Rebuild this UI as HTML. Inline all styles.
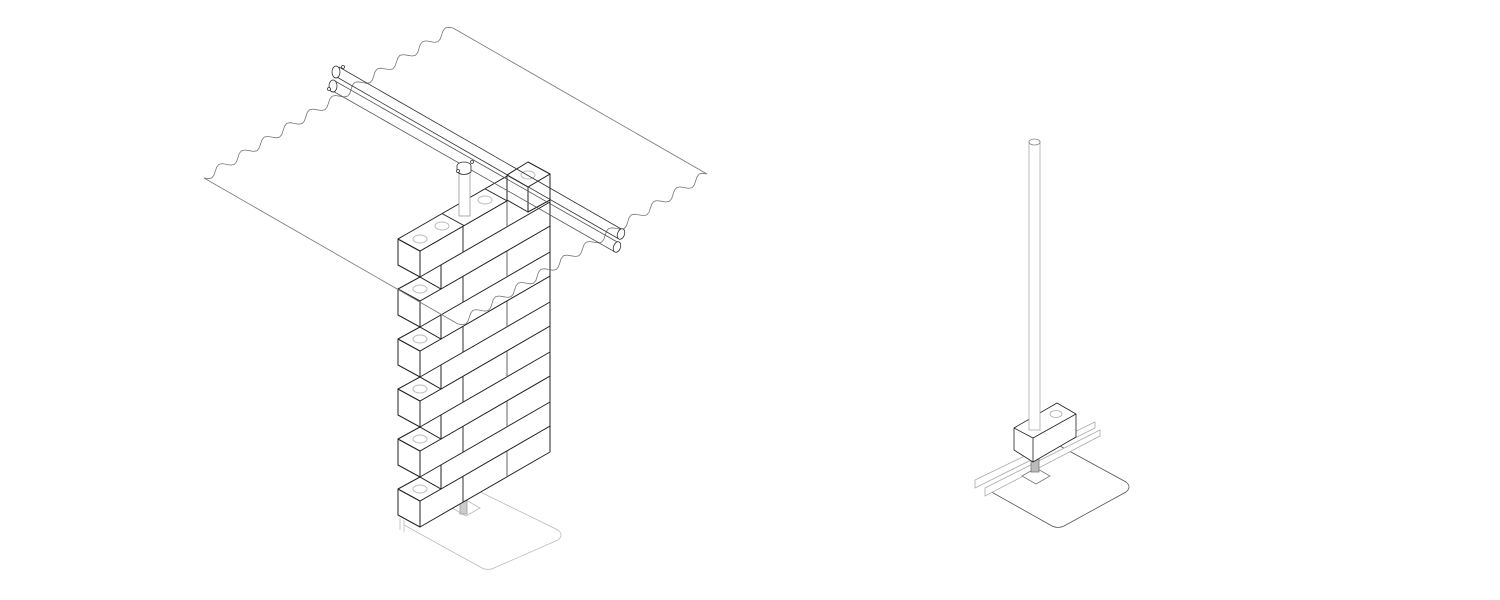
<!DOCTYPE html>
<html><head><meta charset="utf-8"><style>
html,body{margin:0;padding:0;background:#fff;width:1500px;height:600px;overflow:hidden}
svg{display:block}
</style></head><body>
<svg id="s" width="1500" height="600" viewBox="0 0 1500 600" xmlns="http://www.w3.org/2000/svg">
<g id="base" fill="none" stroke="#bbb" stroke-width="0.8">
  <path d="M470,487 L558,530 Q564,535 558,540 L494,568 Q488,571 482,568 L404,525"/>
  <path d="M452,508 L466,500 L480,508 L466,516 Z"/>
  <rect x="460" y="500" width="7" height="14" fill="#ccc" stroke="#999"/>
  <path d="M400,518 L400,530 M404,520 L404,532" />
</g>
<g id="bricks" stroke="#222" stroke-width="1" stroke-linejoin="round"></g>
<g id="sheet" fill="none" stroke="#777" stroke-width="0.8"></g>
<g id="rails" fill="#fff" stroke="#333" stroke-width="0.8">
  <rect x="459" y="168" width="11" height="48" fill="#fff" stroke="#999"/>
  <path d="M331,90 L615,252 M335,81 L619,243" fill="none" stroke="#555"/>
  <path d="M335,76 L619,239 M339,67 L623,230" fill="none" stroke="#333"/>
  <ellipse cx="617" cy="247" rx="3.5" ry="5.5" transform="rotate(20 617 247)"/>
  <ellipse cx="621" cy="234" rx="3.5" ry="5.5" transform="rotate(20 621 234)"/>
  <ellipse cx="464" cy="166" rx="7" ry="4" fill="#fff"/>
  <path d="M457,166 L457,172 Q464,177 471,172 L471,166" fill="#fff"/>
  <ellipse cx="336" cy="72" rx="4" ry="6" fill="#fff"/>
  <ellipse cx="333" cy="86" rx="4" ry="6" fill="#fff"/>
  <circle cx="343" cy="67" r="1.5" fill="#fff"/><circle cx="329" cy="89" r="1.5" fill="#fff"/>
  <circle cx="472" cy="162" r="1.5" fill="#fff"/><circle cx="458" cy="171" r="1.5" fill="#fff"/>
</g>
<g id="right" fill="#fff" stroke="#333" stroke-width="0.8">
  <path d="M1060,446 L1126,482 Q1132,487 1126,492 L1064,526 Q1058,529 1052,526 L988,490" fill="none" stroke="#555"/>
  <path d="M975,480 L1095,422 L1095,428 L975,488 Z" fill="#fff" stroke="#aaa"/>
  <path d="M985,488 L1100,430 L1100,436 L985,496 Z" fill="#fff" stroke="#aaa"/>
  <path d="M1022,476 L1036,468 L1050,476 L1036,484 Z" fill="#fff" stroke="#777"/>
  <rect x="1031" y="458" width="8" height="14" fill="#bbb" stroke="#777"/>
  <path d="M1014,428 L1057,403 L1076,414 L1076,437 L1033,462 L1014,450 Z" fill="#fff" stroke="#222"/>
  <path d="M1014,428 L1033,438 L1076,414 M1033,438 L1033,462" fill="none" stroke="#222"/>
  <ellipse cx="1056" cy="414" rx="6" ry="3.5" fill="none" stroke="#aaa"/>
  <rect x="1029" y="142" width="11" height="288" fill="#fff" stroke="#aaa"/>
  <ellipse cx="1034.5" cy="142" rx="5.5" ry="3" fill="#fff" stroke="#888"/>
</g>
</svg>
<script>
var NS="http://www.w3.org/2000/svg";
function el(p,t,a){var e=document.createElementNS(NS,t);for(var k in a)e.setAttribute(k,a[k]);p.appendChild(e);return e;}
function pts(a){return a.map(function(p){return p[0]+','+p[1]}).join(' ');}
var B=document.getElementById('bricks');
var s=75/130;
function vj(x,yTopAt420,h,c){var dy=(x-420)*s;el(B,'line',{x1:x,y1:yTopAt420-dy,x2:x,y2:yTopAt420-dy+h,stroke:c});}
for(var k=0;k<6;k++){
  var Y=489-50*k;
  el(B,'polygon',{points:pts([[420,Y+12],[550,Y-63],[550,Y-37],[420,Y+38]]),fill:'#fff'});
  el(B,'polygon',{points:pts([[398,Y],[420,Y+12],[420,Y+38],[398,Y+26]]),fill:'#fff'});
  el(B,'polygon',{points:pts([[398,Y],[420,Y-12],[441,Y],[420,Y+12]]),fill:'#fff'});
  el(B,'ellipse',{cx:420,cy:Y,rx:7,ry:4,fill:'none',stroke:'#bbb'});
  vj(463,Y+12,26,'#333'); vj(507,Y+12,26,'#666');
  if(k<5){
    el(B,'polygon',{points:pts([[420,Y-12],[441,Y],[441,Y-26],[420,Y-38]]),fill:'#fff'});
    el(B,'polygon',{points:pts([[441,Y],[550,Y-63],[550,Y-89],[441,Y-26]]),fill:'#fff'});
    vj(485,Y-38,26,'#333'); vj(529,Y-38,26,'#666');
  }
}
var T=239;
el(B,'polygon',{points:pts([[398,T],[420,T+12],[550,T-63],[528,T-75]]),fill:'#fff'});
[442,485].forEach(function(x){var dy=(x-398)*s;el(B,'line',{x1:x,y1:T-dy,x2:x+22,y2:T-dy+12,stroke:'#333'});});
el(B,'ellipse',{cx:420,cy:T,rx:7,ry:4,fill:'none',stroke:'#bbb'});
el(B,'ellipse',{cx:442,cy:226,rx:7,ry:4,fill:'none',stroke:'#bbb'});
el(B,'ellipse',{cx:485,cy:200,rx:7,ry:4,fill:'none',stroke:'#bbb'});
el(B,'polygon',{points:pts([[507,175],[528,187],[528,212],[507,200]]),fill:'#fff'});
el(B,'polygon',{points:pts([[528,187],[550,174],[550,200],[528,212]]),fill:'#fff'});
el(B,'polygon',{points:pts([[507,175],[528,162],[550,174],[528,187]]),fill:'#fff'});
el(B,'ellipse',{cx:528,cy:175,rx:7,ry:4,fill:'none',stroke:'#bbb'});
var S=document.getElementById('sheet');
function wave(P,Q,n,A){var dx=Q[0]-P[0],dy=Q[1]-P[1],L=Math.hypot(dx,dy),nx=-dy/L,ny=dx/L,d='M'+P[0]+','+P[1];
  for(var i=1;i<=n*8;i++){var t=i/(n*8),o=A*Math.sin(t*n*2*Math.PI);d+=' L'+(P[0]+dx*t+nx*o).toFixed(1)+','+(P[1]+dy*t+ny*o).toFixed(1);}return d;}
el(S,'path',{d:wave([204,178],[453,28],11,4)});
el(S,'path',{d:wave([458,324],[707,174],11,4)});
el(S,'path',{d:'M453,28 L707,174 M204,178 L458,324'});
</script>
</body></html>
